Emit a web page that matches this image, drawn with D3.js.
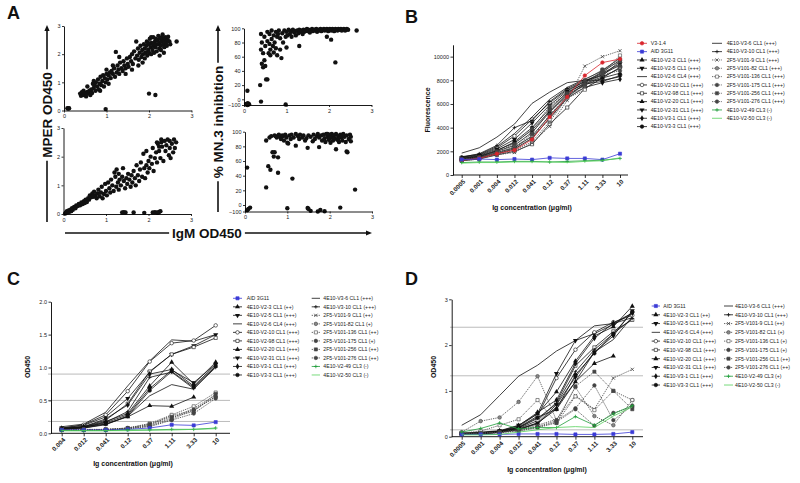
<!DOCTYPE html>
<html><head><meta charset="utf-8">
<script src="https://cdn.jsdelivr.net/npm/d3@7"></script>
<style>body{margin:0;background:#fff}svg{display:block;font-family:"Liberation Sans",Arial,sans-serif}</style>
</head><body>
<script>
// ---------------- DATA ----------------
// Panel A scatter data [IgM OD450, value]
const aTopLeft = [[0.08,0.08],[0.1,0.07],[0.12,0.08],[0.98,0.05],[2.0,0.6],[2.15,0.55],[2.65,2.45],
[0.38,0.6],[0.4,0.52],[0.42,0.65],[0.45,0.55],[0.46,0.7],[0.48,0.58],[0.5,0.62],[0.52,0.5],[0.55,0.66],[0.57,0.6],[0.6,0.7],[0.62,0.55],[0.64,0.75],[0.66,0.62],
[0.68,0.95],[0.7,0.8],[0.72,0.9],[0.74,0.7],[0.75,1.0],[0.78,0.85],[0.8,1.1],[0.82,0.75],[0.84,0.95],[0.86,1.2],[0.88,0.9],[0.9,1.05],[0.92,1.25],[0.94,0.85],[0.96,1.15],[0.98,1.0],[1.0,1.3],[1.0,1.45],
[1.02,1.1],[1.05,1.25],[1.08,1.35],[1.1,1.15],[1.12,1.4],[1.15,1.3],[1.18,1.5],[1.2,1.2],[1.22,2.08],[1.24,1.35],[1.26,1.6],[1.28,1.45],[1.3,1.3],[1.32,1.7],[1.35,1.5],[1.38,1.4],[1.4,1.75],[1.42,1.6],[1.45,1.5],[1.48,1.85],[1.5,1.65],
[1.52,1.55],[1.55,1.9],[1.58,1.75],[1.6,2.0],[1.62,1.65],[1.65,2.1],[1.68,1.85],[1.7,2.45],[1.72,1.95],[1.74,2.2],[1.76,1.8],[1.78,2.05],[1.8,2.3],[1.82,1.9],[1.84,2.15],[1.86,2.0],[1.88,2.35],[1.9,1.85],[1.9,2.2],
[1.92,2.05],[1.94,2.3],[1.95,2.45],[1.96,1.95],[1.98,2.15],[2.0,2.35],[2.0,2.05],[2.02,2.55],[2.04,2.25],[2.05,2.0],[2.06,2.4],[2.08,2.15],[2.1,2.3],[2.1,2.6],[2.12,2.05],[2.14,2.45],[2.15,2.25],[2.16,2.55],[2.18,2.1],[2.2,2.35],[2.2,2.5],[2.22,2.65],[2.24,2.2],[2.25,2.4],[2.26,2.55],[2.28,2.3],[2.3,2.45],[2.3,2.6],[2.32,2.7],[2.34,2.35],[2.35,2.5],[2.36,2.25],[2.38,2.6],[2.4,2.4],[2.4,2.55],[2.42,2.3],[2.44,2.5],[2.45,2.62],[2.48,2.45],[2.5,2.35],[2.05,2.6],[2.12,2.35],[2.28,2.15],[1.98,2.4],
[0.55,0.85],[0.7,1.05],[0.85,0.7],[1.05,0.95],[1.15,1.6],[1.3,1.9],[1.45,1.3],[1.6,1.45],[1.75,1.6],[1.85,1.7],[2.25,1.95],[2.35,2.05]];

const aBottomLeft = [[1.38,0.05],[1.42,0.06],[1.46,0.05],[1.65,0.05],[1.9,0.04],[2.1,0.05],[2.15,0.06],[2.2,0.05],[2.25,0.07],[2.28,0.1],[2.22,0.04],
[0.04,0.02],[0.06,0.05],[0.08,0.1],[0.1,0.06],[0.12,0.12],[0.14,0.08],[0.16,0.15],[0.18,0.1],[0.2,0.2],[0.22,0.15],[0.25,0.25],[0.28,0.2],[0.3,0.3],[0.33,0.28],[0.36,0.35],[0.38,0.3],[0.4,0.32],[0.42,0.4],[0.45,0.35],[0.48,0.45],[0.5,0.38],[0.52,0.5],[0.55,0.42],[0.58,0.55],[0.6,0.5],[0.62,0.65],[0.65,0.58],[0.68,0.72],[0.7,0.6],[0.72,0.78],[0.75,0.65],[0.78,0.55],[0.8,0.72],[0.82,0.85],[0.85,0.62],[0.88,0.75],[0.9,0.95],[0.92,0.55],[0.95,0.7],[0.98,1.05],[1.0,0.8],[1.02,0.65],[1.05,1.1],[1.08,0.9],[1.1,0.75],[1.12,1.2],[1.15,1.0],[1.18,0.8],[1.2,1.45],[1.22,1.3],[1.24,0.95],[1.25,1.55],[1.28,1.1],[1.3,1.4],[1.3,0.85],[1.32,1.2],[1.35,1.0],[1.38,1.3],[1.4,1.6],[1.42,1.15],[1.45,0.9],[1.48,1.25],[1.5,1.05],[1.52,1.4],[1.55,1.2],[1.58,0.95],[1.6,1.35],[1.62,1.1],[1.65,1.5],[1.68,1.25],[1.7,1.0],[1.72,1.7],[1.75,1.35],[1.78,1.15],[1.8,1.55],[1.82,1.8],[1.85,1.3],[1.88,2.1],[1.9,1.6],[1.92,1.25],[1.95,1.7],[1.95,2.2],[1.98,1.45],[2.0,1.85],[2.02,1.6],[2.05,2.0],[2.08,1.75],[2.1,2.3],[2.12,1.5],[2.15,1.95],[2.18,2.15],[2.2,1.8],[2.22,2.45],[2.25,2.2],[2.28,1.95],[2.3,2.5],[2.32,2.35],[2.35,1.85],[2.38,2.55],[2.4,2.2],[2.42,2.4],[2.45,2.6],[2.48,2.05],[2.5,2.3],[2.52,1.95],[2.55,2.45],[2.58,2.15],[2.6,2.6],[2.62,2.3],[2.65,2.5],[2.2,2.5],[2.3,2.6],[2.25,2.35],[2.5,2.55]];

const aTopRight = [[0.05,-80],[0.07,-95],[0.09,-70],[0.1,-90],[0.12,-85],[0.08,-100],[0.4,-40],[0.98,-90],
[0.08,12],[0.38,20],[0.42,50],[0.4,70],[0.4,92],[0.42,80],[0.45,45],[0.45,65],[0.48,55],[0.48,88],[0.5,47],[0.5,75],[0.52,28],[0.55,28],[0.55,95],[0.55,82],[0.58,65],[0.6,78],[0.6,92],[0.62,70],[0.62,62],[0.65,85],[0.65,97],[0.68,75],[0.7,90],[0.7,66],[0.72,80],[0.75,95],[0.75,72],[0.78,62],[0.78,88],[0.8,92],[0.82,97],[0.85,70],[0.85,86],[0.88,58],[0.9,93],[0.92,80],[0.95,97],[0.98,88],[1.0,73],[1.0,95],[1.02,90],[1.05,98],[1.08,92],[1.1,96],[1.12,88],[1.15,98],[1.18,94],[1.2,96],[1.22,90],[1.25,97],[1.28,93],[1.3,75],[1.3,98],[1.32,95],[1.35,97],[1.38,92],[1.4,98],[1.42,95],[1.45,97],[1.48,99],[1.5,96],[1.52,98],[1.55,94],[1.58,97],[1.6,99],[1.62,96],[1.65,98],[1.68,97],[1.7,99],[1.72,95],[1.75,98],[1.78,97],[1.8,99],[1.82,96],[1.85,98],[1.88,99],[1.9,97],[1.92,98],[1.95,88],[1.95,99],[1.98,96],[2.0,98],[2.02,99],[2.05,84],[2.05,97],[2.08,99],[2.1,98],[2.12,96],[2.15,52],[2.15,99],[2.18,98],[2.2,97],[2.22,99],[2.25,98],[2.28,99],[2.3,97],[2.32,98],[2.35,99],[2.38,97],[2.4,98],[2.42,99],[2.45,98],[2.65,97]];

const aBottomRight = [[0.05,-80],[0.08,-60],[0.12,-40],[1.0,-50],[1.48,-45],[1.5,-60],[1.55,-90],[1.72,-100],[1.78,-75],[1.88,-95],[2.25,-40],
[0.05,51],[0.5,24],[0.5,88],[0.55,53],[0.6,48],[0.58,92],[0.62,94],[0.65,72],[0.68,66],[0.7,72],[0.7,95],[0.72,94],[0.75,92],[0.78,44],[0.78,65],[0.8,96],[0.82,93],[0.85,90],[0.88,95],[0.9,94],[0.92,88],[0.95,96],[0.98,92],[1.0,85],[1.02,84],[1.05,95],[1.08,90],[1.12,36],[1.1,96],[1.15,92],[1.2,81],[1.2,97],[1.25,94],[1.28,90],[1.3,96],[1.35,92],[1.38,95],[1.42,88],[1.45,91],[1.48,78],[1.5,95],[1.55,93],[1.6,87],[1.62,96],[1.65,90],[1.7,94],[1.72,97],[1.75,79],[1.75,92],[1.8,95],[1.82,88],[1.85,96],[1.88,91],[1.9,86],[1.92,97],[1.95,93],[1.98,89],[2.0,96],[2.0,91],[2.02,85],[2.05,97],[2.05,93],[2.08,88],[2.1,95],[2.12,91],[2.15,76],[2.15,97],[2.18,89],[2.2,94],[2.22,86],[2.25,96],[2.28,92],[2.3,88],[2.32,97],[2.35,93],[2.38,86],[2.4,95],[2.4,73],[2.42,72],[2.45,90],[2.48,96],[2.5,93],[2.5,87],[2.6,21],[2.1,90],[1.95,97],[2.3,95],[2.2,90]];

const aXTicks = [0,1,2,3];
const aMperTicks = [0,1,2,3];
const aInhTicks = [-100,0,20,40,60,80,100];

// Panel B
const bConc = ["0.0005","0.001","0.004","0.012","0.041","0.12","0.37","1.11","3.33","10"];
const bYTicks = [0,2000,4000,6000,8000,10000];
const bNames = ["V3-1.4","AID 3G11","4E10-V2-3 CL1 (+++)","4E10-V2-5 CL1 (+++)","4E10-V2-6 CL4 (+++)","4E10-V2-10 CL1 (+++)","4E10-V2-98 CL1 (+++)","4E10-V2-20 CL1 (+++)","4E10-V2-31 CL1 (+++)","4E10-V3-1 CL1 (+++)","4E10-V3-3 CL1 (+++)",
"4E10-V3-6 CL1 (+++)","4E10-V3-10 CL1 (+++)","2F5-V101-9 CL1 (+++)","2F5-V101-82 CL1 (+++)","2F5-V101-136 CL1 (+++)","2F5-V101-175 CL1 (+++)","2F5-V101-256 CL1 (+++)","2F5-V101-276 CL1 (+++)","4E10-V2-49 CL3 (-)","4E10-V2-50 CL3 (-)"];
const bValues = [
[1250,1400,1800,2100,3000,4900,6600,8400,9500,9800],
[1300,1350,1300,1350,1300,1450,1400,1400,1300,1800],
[1400,1600,2100,2700,3800,5400,6900,7800,8500,9300],
[1300,1500,1900,2300,3300,5000,6600,7700,8300,9000],
[1850,2300,3200,4300,6050,7000,7800,8000,8000,8300],
[1500,1700,2300,3300,4700,6100,7200,7900,8700,9700],
[1200,1350,1700,2000,2600,4300,5700,7300,8200,9100],
[1350,1550,2000,2500,3600,5300,6800,7600,8200,8600],
[1450,1650,2200,3000,4400,5900,7100,7900,8600,9400],
[1300,1450,1800,2200,3100,4800,6500,7400,7800,8100],
[1400,1550,2050,2800,4000,5600,7000,7700,7900,8400],
[1550,1750,2400,3500,4900,6400,7400,8100,8800,9900],
[1500,1800,2500,4000,4600,6200,7300,8000,8400,9600],
[1300,1400,1700,1900,2700,4100,6300,9200,10000,10500],
[1250,1400,1750,2100,2800,4500,6500,7500,8900,9800],
[1300,1450,1900,2400,3200,4700,6500,7200,8600,10100],
[1200,1350,1800,2200,3100,5100,6700,7700,8700,9200],
[1350,1500,2000,2600,3900,5800,6900,8000,8900,9600],
[1250,1450,1850,2300,3500,5500,6600,7600,8500,8800],
[1050,1100,1100,1150,1150,1100,1150,1200,1250,1400],
[1000,1050,1050,1100,1100,1100,1050,1150,1200,1450]];

// Panel C
const cConc = ["0.004","0.012","0.041","0.12","0.37","1.11","3.33","10"];
const cYTicks = [0,0.5,1.0,1.5,2.0];
const cRefLines = [0.9,0.5,0.18];
const cNames = ["AID 3G11","4E10-V2-3 CL1 (++)","4E10-V2-5 CL1 (+++)","4E10-V2-6 CL4 (+++)","4E10-V2-10 CL1 (+++)","4E10-V2-98 CL1 (+++)","4E10-V2-20 CL1 (+++)","4E10-V2-31 CL1 (+++)","4E10-V3-1 CL1 (+++)","4E10-V3-3 CL1 (+++)",
"4E10-V3-6 CL1 (+++)","4E10-V3-10 CL1 (+++)","2F5-V101-9 CL1 (++)","2F5-V101-82 CL1 (+)","2F5-V101-136 CL1 (++)","2F5-V101-175 CL1 (+)","2F5-V101-256 CL1 (++)","2F5-V101-276 CL1 (++)","4E10-V2-49 CL3 (-)","4E10-V2-50 CL3 (-)"];
const cValues = [
[0.05,0.05,0.05,0.06,0.08,0.13,0.12,0.17],
[0.07,0.1,0.14,0.25,0.42,0.41,0.55,null],
[0.08,0.12,0.25,0.53,0.93,1.2,1.33,1.5],
[0.1,0.14,0.32,0.72,1.1,1.42,1.4,1.5],
[0.08,0.13,0.28,0.64,1.09,1.37,1.41,1.64],
[0.07,0.1,0.2,0.45,0.94,1.2,1.31,1.45],
[0.07,0.1,0.18,0.3,0.72,1.08,0.75,1.08],
[0.06,0.09,0.16,0.28,0.68,0.96,0.77,1.05],
[0.07,0.1,0.22,0.43,0.9,0.97,0.72,1.04],
[0.06,0.08,0.14,0.26,0.65,0.94,0.7,1.02],
[0.06,0.08,0.13,0.26,0.57,0.74,0.67,1.02],
[0.07,0.09,0.17,0.33,0.85,0.93,0.68,1.0],
[0.05,0.05,0.06,0.07,0.12,0.23,0.38,0.58],
[0.05,0.05,0.05,0.08,0.13,0.27,0.35,0.56],
[0.05,0.06,0.06,0.08,0.15,0.28,0.41,0.62],
[0.05,0.05,0.05,0.07,0.1,0.2,0.3,0.53],
[0.05,0.05,0.06,0.08,0.14,0.25,0.33,0.6],
[0.05,0.05,0.05,0.07,0.11,0.21,0.36,0.55],
[0.04,0.04,0.04,0.05,0.05,0.06,0.06,0.08],
[0.04,0.04,0.04,0.04,0.05,0.05,0.06,0.07]];

// Panel D
const dConc = ["0.0005","0.001","0.004","0.012","0.041","0.12","0.37","1.11","3.33","10"];
const dYTicks = [0,1,2,3];
const dRefLines = [2.39,1.33,0.15];
const dNames = ["AID 3G11","4E10-V2-3 CL1 (++)","4E10-V2-5 CL1 (+++)","4E10-V2-6 CL4 (+++)","4E10-V2-10 CL1 (+++)","4E10-V2-98 CL1 (+++)","4E10-V2-20 CL1 (+++)","4E10-V2-31 CL1 (+++)","4E10-V3-1 CL1 (+++)","4E10-V3-3 CL1 (+++)",
"4E10-V3-6 CL1 (+++)","4E10-V3-10 CL1 (+++)","2F5-V101-9 CL1 (++)","2F5-V101-82 CL1 (+)","2F5-V101-136 CL1 (+)","2F5-V101-175 CL1 (+)","2F5-V101-256 CL1 (++)","2F5-V101-276 CL1 (++)","4E10-V2-49 CL3 (+)","4E10-V2-50 CL3 (-)"];
const dValues = [
[0.05,0.05,0.05,0.06,0.06,0.06,0.05,0.05,0.06,0.1],
[0.06,0.07,0.1,0.15,0.3,0.6,1.2,1.6,1.76,null],
[0.08,0.1,0.13,0.25,0.5,1.38,2.1,2.25,2.45,2.7],
[0.25,0.48,0.9,1.32,1.56,1.87,2.1,2.42,2.47,2.6],
[0.07,0.09,0.12,0.2,0.45,1.28,1.9,2.28,2.5,2.65],
[0.06,0.08,0.11,0.18,0.35,0.75,1.55,1.95,2.3,2.55],
[0.07,0.08,0.12,0.22,0.5,0.98,1.65,2.2,2.4,2.85],
[0.06,0.07,0.1,0.17,0.3,0.7,1.3,1.85,2.2,2.75],
[0.07,0.08,0.12,0.24,0.53,0.8,1.6,2.15,2.48,2.7],
[0.06,0.07,0.1,0.2,0.42,0.6,1.35,1.82,2.25,2.72],
[0.05,0.06,0.09,0.16,0.28,0.65,1.2,1.85,2.12,2.62],
[0.06,0.08,0.11,0.19,0.4,0.72,1.42,1.9,2.25,2.58],
[0.06,0.08,0.1,0.15,0.25,0.38,0.9,0.6,1.28,1.47],
[0.1,0.34,0.42,0.76,1.32,0.36,1.08,0.45,0.25,0.8],
[0.08,0.12,0.25,0.38,0.8,0.3,0.88,0.58,1.0,0.8],
[0.06,0.08,0.1,0.15,0.22,0.35,0.62,1.12,0.36,0.68],
[0.06,0.07,0.09,0.12,0.2,0.3,1.1,1.42,1.0,0.6],
[0.05,0.07,0.09,0.13,0.21,0.32,0.6,0.24,0.52,0.65],
[0.1,0.18,0.3,0.17,0.2,0.2,0.44,0.25,0.5,0.68],
[0.04,0.04,0.05,0.1,0.15,0.2,0.22,0.2,0.45,0.65]];

// ---------------- STYLE ----------------
const FONT = '"Liberation Sans",Arial,sans-serif';
const symbolOf = {
 "V3-1.4":"circle","AID 3G11":"square","4E10-V2-3":"triangle","4E10-V2-5":"tridown","4E10-V2-6":"none",
 "4E10-V2-10":"ocircle","4E10-V2-98":"osquare","4E10-V2-20":"triangle","4E10-V2-31":"tridown","4E10-V3-1":"diamond",
 "4E10-V3-3":"circle","4E10-V3-6":"none","4E10-V3-10":"plus","2F5-V101-9":"x","2F5-V101-82":"gcircle",
 "2F5-V101-136":"osquare","2F5-V101-175":"circle","2F5-V101-256":"square","2F5-V101-276":"circle",
 "4E10-V2-49":"plus","4E10-V2-50":"none"};
function baseName(n){ return n.split(" CL")[0]; }
function styleOf(n){
  const b = baseName(n);
  let color = "#111", dash = null, width = 0.8;
  if (b === "V3-1.4") color = "#d9262e";
  else if (b === "AID 3G11") color = "#3b3bd6";
  else if (b === "4E10-V2-49") color = "#1f9d3a";
  else if (b === "4E10-V2-50") color = "#55d05a";
  else if (b.startsWith("2F5")) { color = "#444"; dash = "1.3,1"; }
  return {color, dash, width, sym: symbolOf[b] || "none"};
}

const svg = d3.select("body").append("svg").attr("width",800).attr("height",483);
svg.append("rect").attr("width",800).attr("height",483).attr("fill","#fff");

function marker(g, type, x, y, color){
  if (type === "none") return;
  const t = `translate(${x},${y})`;
  if (type === "circle" || type === "ocircle" || type === "gcircle") {
    g.append("path").attr("d", d3.symbol(d3.symbolCircle, 10)()).attr("transform", t)
      .attr("fill", type==="circle"?color:(type==="gcircle"?"#888":"#fff")).attr("stroke", color).attr("stroke-width",0.6);
  } else if (type === "square" || type === "osquare") {
    g.append("path").attr("d", d3.symbol(d3.symbolSquare, 10)()).attr("transform", t)
      .attr("fill", type==="square"?color:"#fff").attr("stroke", color).attr("stroke-width",0.6);
  } else if (type === "triangle" || type === "tridown") {
    g.append("path").attr("d", d3.symbol(d3.symbolTriangle, 11)()).attr("transform", t + (type==="tridown"?" rotate(180)":""))
      .attr("fill", color);
  } else if (type === "diamond") {
    g.append("path").attr("d", d3.symbol(d3.symbolDiamond, 11)()).attr("transform", t).attr("fill", color);
  } else if (type === "plus") {
    g.append("path").attr("d","M-1.8,0H1.8M0,-1.8V1.8").attr("transform", t).attr("stroke", color).attr("stroke-width",0.8).attr("fill","none");
  } else if (type === "x") {
    g.append("path").attr("d","M-1.6,-1.6L1.6,1.6M-1.6,1.6L1.6,-1.6").attr("transform", t).attr("stroke", color).attr("stroke-width",0.8).attr("fill","none");
  }
}

function styleAxis(ax, fs){
  ax.selectAll("text").attr("font-size", fs).attr("font-family", FONT).attr("fill","#222");
  ax.selectAll("line").attr("stroke","#000").attr("stroke-width",0.8);
  ax.selectAll("path.domain").attr("stroke","#000").attr("stroke-width",0.9);
}

// ---------------- PANEL A ----------------
function scatter(data, xr, yScale, yTicks, yFmt){
  const x = d3.scaleLinear().domain([0,3]).range(xr);
  const y0 = yScale.range()[0];
  const g = svg.append("g");
  g.selectAll("circle").data(data).join("circle")
    .attr("cx", d => x(d[0])).attr("cy", d => yScale(d[1])).attr("r", 2.2).attr("fill","#111");
  const ax = g.append("g").attr("transform",`translate(0,${y0})`)
    .call(d3.axisBottom(x).tickValues(aXTicks).tickSize(2).tickSizeOuter(0).tickPadding(2).tickFormat(d3.format("d")));
  styleAxis(ax, 5.5);
  const ay = g.append("g").attr("transform",`translate(${xr[0]},0)`)
    .call(d3.axisLeft(yScale).tickValues(yTicks).tickSize(2).tickSizeOuter(0).tickPadding(1.5).tickFormat(yFmt));
  styleAxis(ay, 5.5);
}
scatter(aTopLeft, [64,191.5], d3.scaleLinear().domain([0,3]).range([110.5,26]), aMperTicks, d3.format("d"));
scatter(aBottomLeft, [63.5,191], d3.scaleLinear().domain([0,3]).range([214,128]), aMperTicks, d3.format("d"));
scatter(aTopRight, [244,371.5], d3.scaleLinear().domain([-100,0,100]).range([105,99.3,28.3]), aInhTicks, d3.format("d"));
scatter(aBottomRight, [245,372], d3.scaleLinear().domain([-100,0,100]).range([211.5,205,131.7]), aInhTicks, d3.format("d"));

// arrow labels
function vArrow(x, yTop, yBot, cy, label){
  const t = svg.append("text").attr("transform",`translate(${x},${cy}) rotate(-90)`)
    .attr("text-anchor","middle").attr("dy","0.36em").attr("font-size",13.5).attr("font-weight","bold")
    .attr("font-family",FONT).attr("fill","#111").text(label);
  const L = t.node().getComputedTextLength();
  svg.append("line").attr("x1",x).attr("x2",x).attr("y1",yBot).attr("y2",cy+L/2+3).attr("stroke","#111").attr("stroke-width",1.6);
  svg.append("line").attr("x1",x).attr("x2",x).attr("y1",cy-L/2-3).attr("y2",yTop+5).attr("stroke","#111").attr("stroke-width",1.6);
  svg.append("path").attr("d",`M${x-2.6},${yTop+6}L${x},${yTop}L${x+2.6},${yTop+6}Z`).attr("fill","#111");
}
vArrow(47, 25, 222, 115, "MPER OD450");
vArrow(218, 25, 212, 122, "% MN.3 inhibition");
(function(){
  const y = 233, cx = 207, x0 = 65, x1 = 372;
  const t = svg.append("text").attr("x",cx).attr("y",y).attr("dy","0.36em").attr("text-anchor","middle")
    .attr("font-size",13.5).attr("font-weight","bold").attr("font-family",FONT).attr("fill","#111").text("IgM OD450");
  const L = t.node().getComputedTextLength();
  svg.append("line").attr("x1",x0).attr("x2",cx-L/2-3).attr("y1",y).attr("y2",y).attr("stroke","#111").attr("stroke-width",1.6);
  svg.append("line").attr("x1",cx+L/2+3).attr("x2",x1-5).attr("y1",y).attr("y2",y).attr("stroke","#111").attr("stroke-width",1.6);
  svg.append("path").attr("d",`M${x1-6},${y-2.6}L${x1},${y}L${x1-6},${y+2.6}Z`).attr("fill","#111");
})();

// ---------------- LINE PANELS ----------------
function linePanel(cfg){
  const g = svg.append("g");
  const x = d3.scalePoint().domain(cfg.cats).range(cfg.xr);
  const y = d3.scaleLinear().domain(cfg.yDom).range(cfg.yr);
  (cfg.refs||[]).forEach(r => {
    g.append("line").attr("x1",cfg.refX[0]).attr("x2",cfg.refX[1]).attr("y1",y(r)).attr("y2",y(r))
      .attr("stroke","#aaa").attr("stroke-width",0.8);
  });
  const ay = g.append("g").attr("transform",`translate(${cfg.axisX},0)`)
    .call(d3.axisLeft(y).tickValues(cfg.yTicks).tickSize(2.5).tickSizeOuter(0).tickPadding(1.5).tickFormat(cfg.yFmt));
  styleAxis(ay, 5.5);
  const y0 = y(cfg.yDom[0]);
  g.append("line").attr("x1",cfg.axisX).attr("x2",cfg.axisEnd).attr("y1",y0).attr("y2",y0).attr("stroke","#000").attr("stroke-width",0.9);
  const ax = g.append("g").attr("transform",`translate(0,${y0})`)
    .call(d3.axisBottom(x).tickSize(3).tickSizeOuter(0));
  ax.select("path.domain").remove();
  styleAxis(ax, 6.3);
  ax.selectAll("text").attr("font-weight","bold").attr("text-anchor","end")
    .attr("x",0).attr("y",0).attr("dx",0).attr("dy","0.35em")
    .attr("transform","translate(2,5.5) rotate(-45)");
  g.append("text").attr("x",cfg.xTitle[0]).attr("y",cfg.xTitle[1]).attr("text-anchor","middle")
    .attr("font-size",7).attr("font-weight","bold").attr("font-family",FONT).attr("fill","#111").text("Ig concentration (\u03bcg/ml)");
  g.append("text").attr("transform",`translate(${cfg.yTitle[0]},${cfg.yTitle[1]}) rotate(-90)`).attr("text-anchor","middle")
    .attr("font-size",7).attr("font-weight","bold").attr("font-family",FONT).attr("fill","#111").text(cfg.yLabel);
  const isColored = n => { const c = styleOf(n).color; return !(c === "#111" || c === "#444"); };
  const order = cfg.names.map((n,i)=>i).sort((a,b)=> (isColored(cfg.names[a]) - isColored(cfg.names[b])) || a - b);
  const line = d3.line().defined(d => d.v != null).x(d => x(d.c)).y(d => y(d.v));
  order.forEach(i => {
    const st = styleOf(cfg.names[i]);
    const pts = cfg.cats.map((c,k)=>({c, v: cfg.values[i][k]}));
    g.append("path").attr("d", line(pts)).attr("fill","none").attr("stroke",st.color)
      .attr("stroke-width",st.width).attr("stroke-dasharray",st.dash);
    pts.filter(p=>p.v!=null).forEach(p => marker(g, st.sym, x(p.c), y(p.v), st.color));
  });
  cfg.names.forEach((n,i) => {
    const col = i < cfg.leg.n1 ? 0 : 1;
    const row = col === 0 ? i : i - cfg.leg.n1;
    const ly = cfg.leg.y0 + row*cfg.leg.step;
    const lx = cfg.leg.cols[col];
    const st = styleOf(n);
    g.append("line").attr("x1",lx[0]).attr("x2",lx[1]).attr("y1",ly).attr("y2",ly).attr("stroke",st.color)
      .attr("stroke-width",0.8).attr("stroke-dasharray",st.dash);
    marker(g, st.sym, (lx[0]+lx[1])/2, ly, st.color);
    g.append("text").attr("x",lx[2]).attr("y",ly).attr("dy","0.35em").attr("font-size",5.2)
      .attr("font-family",FONT).attr("fill","#222").text(n);
  });
}

linePanel({cats:bConc, values:bValues, names:bNames, xr:[461.7,620], yDom:[0,11000], yr:[175,44.8],
  yTicks:bYTicks, yFmt:d3.format("d"), axisX:453, axisEnd:628, xTitle:[532,209.5], yTitle:[430,110], yLabel:"Fluorescence",
  leg:{n1:11, y0:43.3, step:8.33, cols:[[637,647,650.7],[712,722,726.7]]}});

linePanel({cats:cConc, values:cValues, names:cNames, xr:[61.7,215.7], yDom:[0,2], yr:[433.3,301.7],
  yTicks:cYTicks, yFmt:d3.format(".1f"), axisX:51, axisEnd:230, xTitle:[133,466], yTitle:[30,367], yLabel:"OD450",
  refs:cRefLines, refX:[48,230],
  leg:{n1:10, y0:298.3, step:8.52, cols:[[233,242,246.7],[311.7,320,323.3]]}});

linePanel({cats:dConc, values:dValues, names:dNames, xr:[461.7,632.3], yDom:[0,3], yr:[436.7,299.3],
  yTicks:dYTicks, yFmt:d3.format("d"), axisX:451.7, axisEnd:643, xTitle:[547,472], yTitle:[436,367], yLabel:"OD450",
  refs:dRefLines, refX:[450,643],
  leg:{n1:10, y0:306, step:8.78, cols:[[651.7,660,663.3],[724,733,735]]}});

[["A",7,19],["B",405,23],["C",7,285],["D",405,285]].forEach(([t,x,y]) => {
  svg.append("text").attr("x",x).attr("y",y).attr("font-size",18).attr("font-weight","bold")
    .attr("font-family",FONT).attr("fill","#111").text(t);
});
</script>
</body></html>
